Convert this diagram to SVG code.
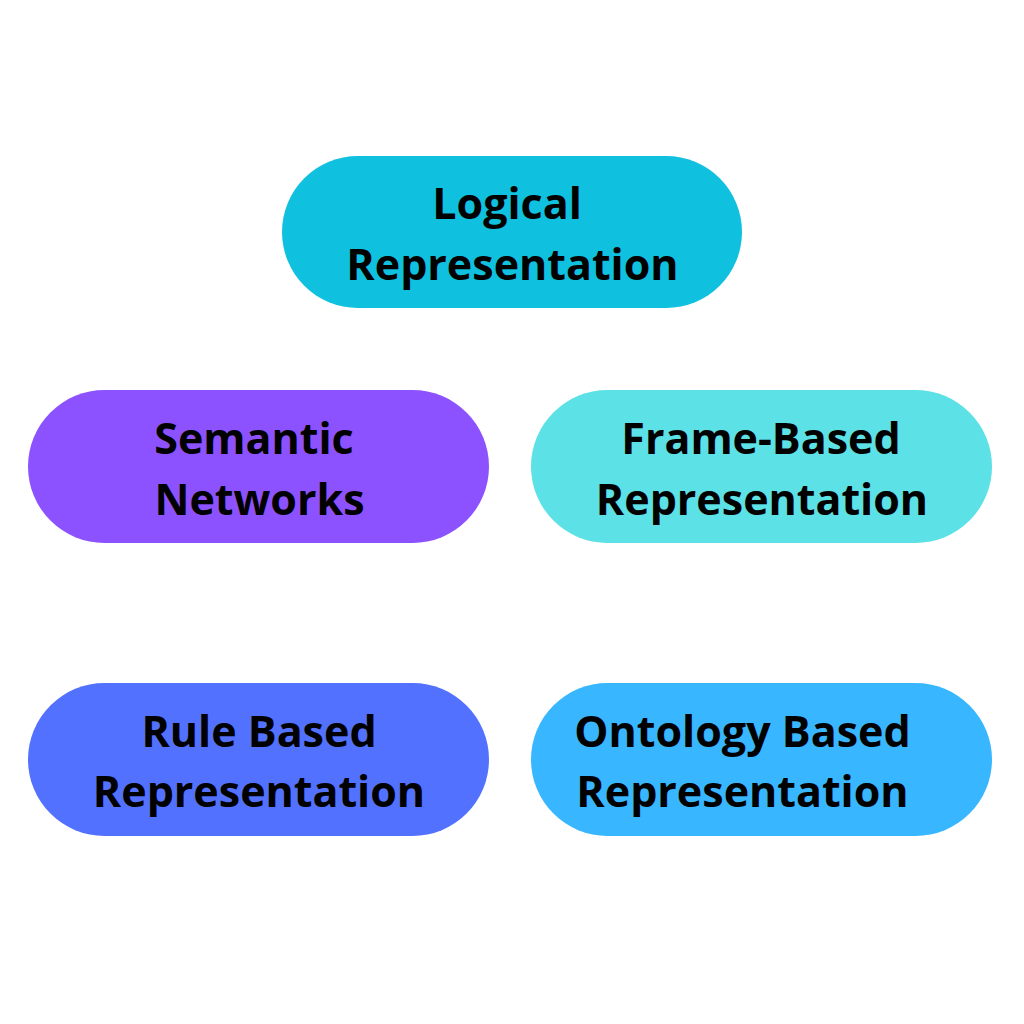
<svg xmlns="http://www.w3.org/2000/svg" width="1024" height="1024" viewBox="0 0 1024 1024">
<style>
.pill{stroke:none}
.t{font-family:"Open Sans","Liberation Sans",sans-serif;font-weight:700;font-size:43px;fill:#000;text-anchor:middle}
</style>
<rect width="1024" height="1024" fill="#ffffff"/>
<g id="connectors"></g>
<g id="logical">
<rect class="pill" x="282" y="156" width="460" height="152" rx="76" fill="#0fc0df"/>
<text class="t" x="507" y="219">Logical</text>
<text class="t" x="512.5" y="280">Representation</text>
</g>
<g id="semantic">
<rect class="pill" x="28" y="390" width="461" height="153" rx="76.5" fill="#8c52ff"/>
<text class="t" x="254" y="454">Semantic</text>
<text class="t" x="259.5" y="515">Networks</text>
</g>
<g id="frame">
<rect class="pill" x="531" y="390" width="461" height="153" rx="76.5" fill="#5ce1e6"/>
<text class="t" x="761" y="454">Frame-Based</text>
<text class="t" x="762" y="515">Representation</text>
</g>
<g id="rule">
<rect class="pill" x="28" y="683" width="461" height="153" rx="76.5" fill="#5271ff"/>
<text class="t" x="259" y="747">Rule Based</text>
<text class="t" x="259" y="807">Representation</text>
</g>
<g id="ontology">
<rect class="pill" x="531" y="683" width="461" height="153" rx="76.5" fill="#38b6ff"/>
<text class="t" x="742.5" y="747">Ontology Based</text>
<text class="t" x="742.5" y="807">Representation</text>
</g>
</svg>
